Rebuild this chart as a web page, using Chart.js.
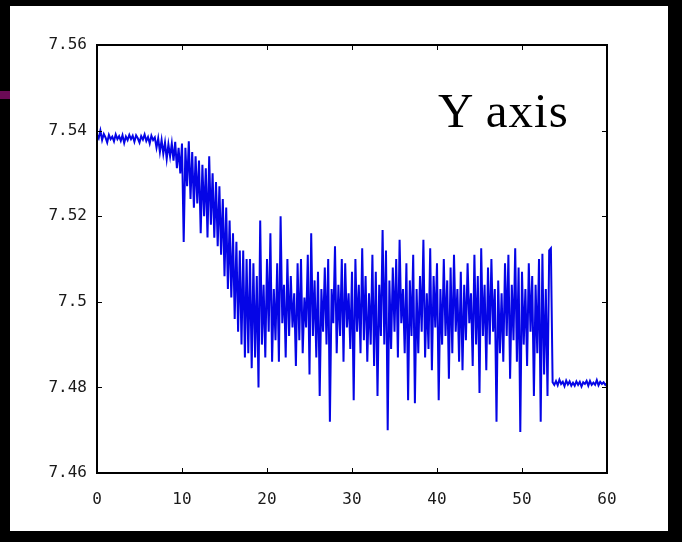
<!DOCTYPE html>
<html lang="en">
<head>
  <meta charset="UTF-8" />
  <title>Y axis</title>
  <script src="https://cdn.jsdelivr.net/npm/chart.js"></script>
  <style>
    body {
      margin: 0;
      background: #000;
      width: 682px;
      height: 542px;
      overflow: hidden;
      position: relative;
    }
    #panel {
      position: absolute;
      left: 10px;
      top: 6px;
      width: 658px;
      height: 525px;
      background: #fff;
    }
    #mark {
      position: absolute;
      left: 0;
      top: 91px;
      width: 10px;
      height: 8px;
      background: #6a0a55;
    }
    #chart {
      position: absolute;
      left: 0;
      top: 0;
    }
    #label {
      position: absolute;
      left: 438px;
      top: 86px;
      font-family: "Liberation Serif", "Times New Roman", serif;
      font-size: 49px;
      line-height: 49px;
      letter-spacing: 1px;
      color: #000;
    }
  </style>
</head>
<body>

<div id="panel"></div>
<div id="mark"></div>
<canvas id="chart" width="682" height="542"></canvas>
<div id="label">Y axis</div>

<script>
  // time axis, one reading every 0.2
  const step = 0.2;

  // readings, five per unit of time
  const yValues = [
    7.5390, 7.5382, 7.5400, 7.5378, 7.5392,   // 0
    7.5384, 7.5372, 7.5390, 7.5380, 7.5386,
    7.5375, 7.5391, 7.5380, 7.5387, 7.5376,
    7.5389, 7.5371, 7.5386, 7.5378, 7.5390,
    7.5380, 7.5388, 7.5374, 7.5389, 7.5382,
    7.5372, 7.5387, 7.5379, 7.5391, 7.5376,   // 5
    7.5385, 7.5370, 7.5388, 7.5378, 7.5384,
    7.5360, 7.5382, 7.5350, 7.5378, 7.5346,
    7.5372, 7.5334, 7.5368, 7.5340, 7.5370,
    7.5330, 7.5374, 7.5312, 7.5360, 7.5300,
    7.5370, 7.5140, 7.5360, 7.5270, 7.5375,   // 10
    7.5240, 7.5350, 7.5220, 7.5340, 7.5230,
    7.5330, 7.5160, 7.5320, 7.5200, 7.5312,
    7.5150, 7.5340, 7.5180, 7.5300, 7.5150,
    7.5280, 7.5130, 7.5270, 7.5110, 7.5240,
    7.5060, 7.5220, 7.5030, 7.5190, 7.5010,   // 15
    7.5160, 7.4960, 7.5140, 7.4930, 7.5120,
    7.4900, 7.5120, 7.4870, 7.5100, 7.4880,
    7.5100, 7.4845, 7.5090, 7.4870, 7.5060,
    7.4800, 7.5190, 7.4900, 7.5040, 7.4870,
    7.5100, 7.4930, 7.5160, 7.4860, 7.5030,   // 20
    7.4910, 7.5090, 7.4860, 7.5200, 7.4950,
    7.5040, 7.4870, 7.5100, 7.4920, 7.5060,
    7.4940, 7.5020, 7.4850, 7.5090, 7.4910,
    7.5100, 7.4880, 7.5010, 7.4940, 7.5110,
    7.4830, 7.5160, 7.4920, 7.5050, 7.4870,   // 25
    7.5070, 7.4780, 7.5030, 7.4930, 7.5080,
    7.4900, 7.5100, 7.4720, 7.5030, 7.4950,
    7.5130, 7.4880, 7.5040, 7.4920, 7.5100,
    7.4860, 7.5090, 7.4940, 7.5020, 7.4890,
    7.5070, 7.4770, 7.5100, 7.4930, 7.5040,   // 30
    7.4880, 7.5125, 7.4910, 7.5060, 7.4860,
    7.5020, 7.4900, 7.5110, 7.4850, 7.5070,
    7.4780, 7.5040, 7.4920, 7.5168, 7.4900,
    7.5120, 7.4700, 7.5050, 7.4890, 7.5080,
    7.4930, 7.5100, 7.4870, 7.5145, 7.4950,   // 35
    7.5030, 7.4880, 7.5090, 7.4770, 7.5050,
    7.4920, 7.5110, 7.4763, 7.5030, 7.4880,
    7.5060, 7.4930, 7.5145, 7.4870, 7.5020,
    7.4890, 7.5125, 7.4840, 7.5060, 7.4940,
    7.5090, 7.4770, 7.5030, 7.4900, 7.5100,   // 40
    7.4920, 7.5050, 7.4820, 7.5080, 7.4880,
    7.5110, 7.4930, 7.5030, 7.4860, 7.5070,
    7.4840, 7.5040, 7.4910, 7.5090, 7.4950,
    7.5020, 7.4850, 7.5110, 7.4900, 7.5060,
    7.4787, 7.5125, 7.4920, 7.5040, 7.4840,   // 45
    7.5080, 7.4900, 7.5100, 7.4930, 7.5030,
    7.4720, 7.5050, 7.4880, 7.5020, 7.4860,
    7.5090, 7.4920, 7.5110, 7.4820, 7.5040,
    7.4910, 7.5125, 7.4860, 7.5080, 7.4696,
    7.5070, 7.4900, 7.5030, 7.4850, 7.5090,   // 50
    7.4930, 7.5060, 7.4780, 7.5040, 7.4880,
    7.5100, 7.4720, 7.5112, 7.4830, 7.5030,
    7.4780, 7.5120, 7.5125, 7.4812, 7.4806,
    7.4815, 7.4805, 7.4818, 7.4808, 7.4813,
    7.4803, 7.4816, 7.4807, 7.4814, 7.4804,   // 55
    7.4811, 7.4804, 7.4814, 7.4806, 7.4813,
    7.4802, 7.4812, 7.4808, 7.4815, 7.4804,
    7.4815, 7.4806, 7.4811, 7.4806, 7.4817,
    7.4805, 7.4813, 7.4808, 7.4812, 7.4806,
    7.4810                                    // 60
  ];

  const xTicks = [0, 10, 20, 30, 40, 50, 60];
  const yTicks = [7.46, 7.48, 7.5, 7.52, 7.54, 7.56];

  const points = yValues.map((v, i) => ({ x: +(i * step).toFixed(1), y: v }));

  // frame and inward tick marks on all four sides
  const frame = {
    id: 'frame',
    afterDraw(chart) {
      const { ctx, chartArea: a, scales } = chart;
      ctx.save();
      ctx.strokeStyle = '#000';
      ctx.lineWidth = 1;
      ctx.beginPath();
      xTicks.forEach(t => {
        const px = Math.round(scales.x.getPixelForValue(t)) + 0.5;
        ctx.moveTo(px, a.top); ctx.lineTo(px, a.top + 5);
        ctx.moveTo(px, a.bottom); ctx.lineTo(px, a.bottom - 5);
      });
      yTicks.forEach(t => {
        const py = Math.round(scales.y.getPixelForValue(t)) + 0.5;
        ctx.moveTo(a.left, py); ctx.lineTo(a.left + 5, py);
        ctx.moveTo(a.right, py); ctx.lineTo(a.right - 5, py);
      });
      ctx.stroke();
      ctx.lineWidth = 2;
      ctx.strokeRect(a.left, a.top, a.right - a.left, a.bottom - a.top);
      ctx.restore();
    }
  };

  new Chart(document.getElementById('chart'), {
    type: 'line',
    data: {
      datasets: [{
        data: points,
        borderColor: 'rgb(5,5,230)',
        borderWidth: 2,
        pointRadius: 0,
        tension: 0,
        fill: false
      }]
    },
    options: {
      responsive: false,
      animation: false,
      devicePixelRatio: 1,
      layout: { padding: { left: 0, top: 45, right: 75, bottom: 0 } },
      plugins: {
        legend: { display: false },
        tooltip: { enabled: false },
        title: { display: false }
      },
      scales: {
        x: {
          type: 'linear',
          min: 0,
          max: 60,
          afterFit: s => { s.height = 69; },
          afterBuildTicks: s => { s.ticks = xTicks.map(v => ({ value: v })); },
          grid: { display: false, drawTicks: false },
          border: { display: false },
          ticks: {
            padding: 17,
            color: '#1a1a1a',
            font: { family: 'DejaVu Sans Mono', size: 16 },
            callback: v => String(v)
          }
        },
        y: {
          type: 'linear',
          min: 7.46,
          max: 7.56,
          afterFit: s => { s.width = 97; },
          afterBuildTicks: s => { s.ticks = yTicks.map(v => ({ value: v })); },
          grid: { display: false, drawTicks: false },
          border: { display: false },
          ticks: {
            padding: 10,
            color: '#1a1a1a',
            font: { family: 'DejaVu Sans Mono', size: 16 },
            callback: v => String(+v.toFixed(2))
          }
        }
      }
    },
    plugins: [frame]
  });
</script>

</body>
</html>
